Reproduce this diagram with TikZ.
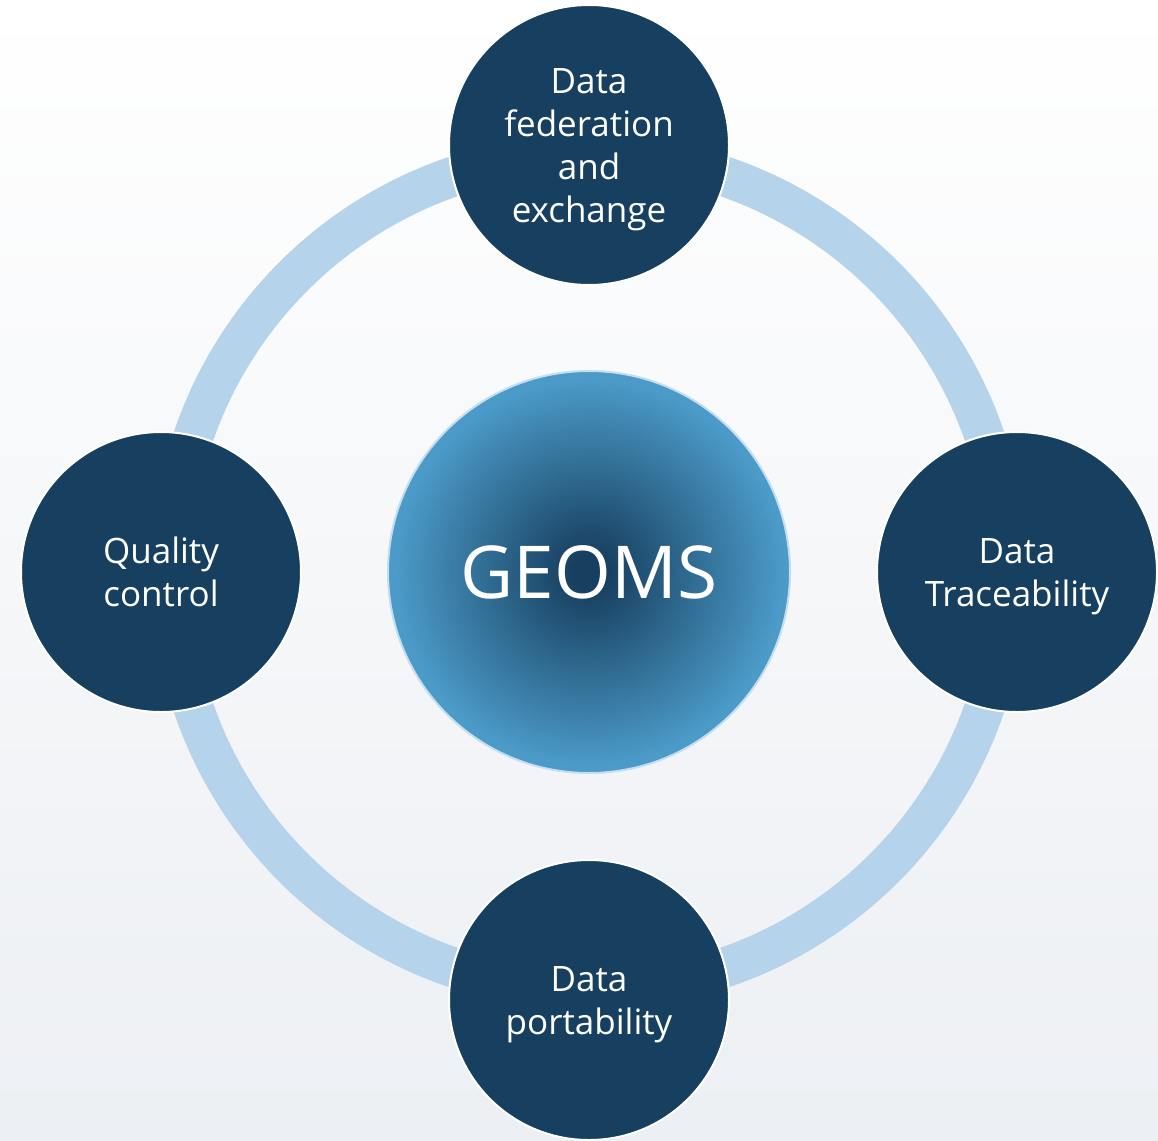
\documentclass[tikz,border=0pt]{standalone}
\usepackage{fontspec}
\setmainfont{Open Sans}
\usetikzlibrary{shadings}

\definecolor{bgtop}{HTML}{FFFFFF}
\definecolor{bgbottom}{HTML}{ECEFF3}
\definecolor{ringblue}{HTML}{B5D3EA}
\definecolor{navy}{HTML}{173F5F}
\definecolor{coredark}{HTML}{173F5F}
\definecolor{corelight}{HTML}{4B9AC8}
\definecolor{corerim}{HTML}{C3DEF1}

% radial glow for the central hub: dark core fading to light blue at the rim
\pgfdeclareradialshading{coreglow}{\pgfpoint{0bp}{0bp}}{%
  color(0bp)=(coredark);
  color(2bp)=(coredark);
  color(24bp)=(corelight);
  color(50bp)=(corelight)}

\tikzset{
  % pillar circle; #1 = label text, #2 = vertical nudge of the label
  pillar/.style 2 args={circle, minimum size=280pt, inner sep=0pt, fill=navy,
    draw=white, line width=2pt,
    label={[pillartext, yshift=#2]center:#1}},
  pillartext/.style={text=white, align=center,
    font=\fontsize{35}{43}\selectfont},
  hub/.style={circle, minimum size=402pt, inner sep=0pt, shading=coreglow,
    draw=corerim, line width=2pt, text=white,
    font=\fontsize{73}{80}\selectfont},
}

\begin{document}
\begin{tikzpicture}[x=1pt,y=-1pt]
  % page background with soft vertical fade
  \shade[top color=bgtop, bottom color=bgbottom] (0,0) rectangle (1158,1140);
  \useasboundingbox (0,0) rectangle (1158,1140);

  % ring joining the four pillars
  \coordinate (o) at (589,572);
  \draw[ringblue, line width=40pt] (o) circle[radius=418];

  % central hub
  \node[hub] (geoms) at (o) {GEOMS};

  % four pillars around the hub
  \node[pillar={Data\\federation\\and\\exchange}{-5pt}] (fed)   at (589,145)  {};
  \node[pillar={Data\\Traceability}{-5pt}]              (trace) at (1017,572) {};
  \node[pillar={Data\\portability}{-5pt}]               (port)  at (589,1000) {};
  \node[pillar={Quality\\control}{0pt}]                 (qual)  at (161,572)  {};
\end{tikzpicture}
\end{document}
